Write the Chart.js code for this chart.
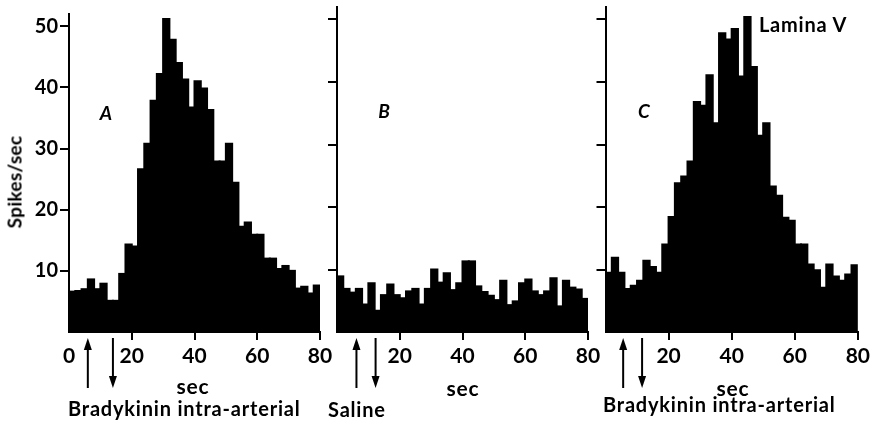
<!DOCTYPE html>
<html lang="en">
<head>
  <meta charset="UTF-8">
  <title>Lamina V - bradykinin</title>
  <script src="https://cdn.jsdelivr.net/npm/chart.js"></script>
  <style>
    body { margin: 0; background: #fff; font-family: Lato, "Open Sans", sans-serif; }
    #wrap { position: relative; width: 874px; height: 423px; overflow: hidden; }
    #wrap canvas { position: absolute; left: 0; top: 0; }
    .txt { position: absolute; font-weight: bold; color: #000; white-space: nowrap; line-height: 1; font-size: 20px; letter-spacing: 0.8px; }
    .mid { transform: translate(-50%, -50%); }
    .lft { transform: translate(0, -50%); }
    .ital { font-style: italic; font-size: 19px; letter-spacing: 0; }
  </style>
</head>
<body>
  <div id="wrap">
    <canvas id="panelA" width="874" height="423"></canvas>
    <canvas id="panelB" width="874" height="423"></canvas>
    <canvas id="panelC" width="874" height="423"></canvas>

    <div class="txt mid" style="left:14px; top:182px; font-size:19px; letter-spacing:0.3px; transform: translate(-50%,-50%) rotate(-90deg);">Spikes/sec</div>
    <div class="txt mid ital" style="left:106px; top:112px;">A</div>
    <div class="txt mid ital" style="left:384px; top:110px;">B</div>
    <div class="txt mid ital" style="left:644px; top:110px;">C</div>
    <div class="txt mid" style="left:803px; top:24px;">Lamina V</div>
    <div class="txt mid" style="left:193px; top:385px; font-size:21px;">sec</div>
    <div class="txt mid" style="left:463px; top:387px; font-size:21px;">sec</div>
    <div class="txt mid" style="left:733px; top:387px; font-size:21px;">sec</div>
    <div class="txt lft" style="left:68px; top:408px;">Bradykinin intra-arterial</div>
    <div class="txt lft" style="left:328px; top:409px;">Saline</div>
    <div class="txt lft" style="left:603px; top:404px;">Bradykinin intra-arterial</div>
  </div>

  <script>
    // 2 s bins, 0-80 s
    const binSec = 2;
    const xTicks = [0, 20, 40, 60, 80];
    const yTicks = [10, 20, 30, 40, 50];

    // spikes/sec per bin
    const valsA = [6.6, 6.7, 7.0, 8.6, 7.0, 7.9, 5.1, 5.1, 9.5, 14.3,
                   14.0, 26.6, 30.8, 37.8, 42.2, 51.2, 47.8, 44.0, 41.3, 36.7,
                   41.0, 39.8, 36.3, 27.9, 27.9, 30.8, 24.4, 17.2, 17.9, 15.9,
                   15.9, 12.0, 12.0, 10.3, 10.8, 10.0, 7.1, 7.4, 6.3, 7.6];
    const valsB = [8.9, 6.9, 6.3, 6.9, 4.4, 7.8, 3.4, 5.9, 7.6, 5.9,
                   5.4, 6.5, 6.9, 4.4, 6.9, 10.0, 7.9, 9.4, 6.7, 7.8,
                   11.3, 11.3, 7.3, 6.4, 5.8, 5.1, 8.2, 4.3, 4.9, 7.8,
                   8.4, 6.5, 5.9, 6.5, 8.6, 4.1, 8.2, 7.1, 6.8, 5.3];
    const valsC = [9.5, 11.9, 9.5, 6.9, 7.4, 8.2, 11.4, 10.4, 9.5, 14.0,
                   18.4, 23.8, 24.9, 27.3, 36.8, 36.2, 41.1, 33.4, 47.8, 46.8,
                   48.5, 40.9, 50.4, 42.4, 31.4, 33.4, 23.3, 21.8, 18.3, 17.8,
                   14.0, 14.0, 10.8, 9.9, 7.1, 10.8, 8.9, 8.2, 9.2, 10.7];

    // injection start / end (sec)
    const arrowsA = [6, 14];
    const arrowsB = [6.2, 12.3];
    const arrowsC = [5.6, 11.6];

    const fontFam = 'Lato, "Open Sans", sans-serif';

    const arrowPlugin = {
      id: 'arrows',
      afterDraw(chart, args, opts) {
        const ctx = chart.ctx;
        const xs = chart.scales.x;
        const base = chart.chartArea.bottom;
        ctx.save();
        ctx.fillStyle = '#000';
        ctx.strokeStyle = '#000';
        ctx.lineWidth = 2;
        opts.times.forEach((t, i) => {
          const x = xs.getPixelForValue(t);
          const up = i === 0;
          const top = base + 6, bot = base + 56;
          ctx.beginPath();
          ctx.moveTo(x, up ? top + 8 : top);
          ctx.lineTo(x, up ? bot : bot - 8);
          ctx.stroke();
          ctx.beginPath();
          if (up) {
            ctx.moveTo(x, top); ctx.lineTo(x - 4, top + 12); ctx.lineTo(x + 4, top + 12);
          } else {
            ctx.moveTo(x, bot); ctx.lineTo(x - 4, bot - 12); ctx.lineTo(x + 4, bot - 12);
          }
          ctx.closePath();
          ctx.fill();
        });
        ctx.restore();
      }
    };

    function makePanel(id, vals, arrows, lay) {
      const pts = vals.map((v, i) => ({ x: i * binSec + binSec / 2, y: v }));
      return new Chart(document.getElementById(id), {
        type: 'bar',
        data: {
          datasets: [{
            data: pts,
            backgroundColor: '#000',
            borderWidth: 0,
            inflateAmount: 1,
            barPercentage: 1,
            categoryPercentage: 1
          }]
        },
        options: {
          responsive: false,
          animation: false,
          events: [],
          layout: { padding: { left: lay.left, right: lay.right, top: 7, bottom: 51 } },
          plugins: {
            legend: { display: false },
            tooltip: { enabled: false },
            arrows: { times: arrows }
          },
          scales: {
            x: {
              type: 'linear',
              min: 0, max: 80,
              offset: false,
              afterBuildTicks: s => { s.ticks = xTicks.map(v => ({ value: v })); },
              afterFit: s => { s.height = 40; },
              border: { display: true, color: '#000', width: 2 },
              grid: {
                offset: false,
                drawOnChartArea: false,
                tickLength: 8,
                lineWidth: 2,
                color: c => (c.tick && c.tick.value === 0) ? 'rgba(0,0,0,0)' : '#000'
              },
              ticks: {
                color: '#000',
                padding: 4,
                maxRotation: 0,
                font: { family: fontFam, size: 21, weight: 'bold' },
                callback: v => (v === 0 && !lay.zero) ? '' : v
              }
            },
            y: {
              min: 0, max: 52,
              afterBuildTicks: s => { s.ticks = yTicks.map(v => ({ value: v })); },
              afterFit: s => { s.width = lay.yw; },
              border: { display: true, color: '#000', width: 2 },
              grid: { drawOnChartArea: false, tickLength: 9, lineWidth: 2, color: '#000' },
              ticks: {
                display: lay.ylab,
                color: '#000',
                padding: 2,
                font: { family: fontFam, size: 20, weight: 'bold' }
              }
            }
          }
        },
        plugins: [arrowPlugin]
      });
    }

    makePanel('panelA', valsA, arrowsA, { left: 0, right: 554, yw: 69, ylab: true, zero: true });
    makePanel('panelB', valsB, arrowsB, { left: 317, right: 286, yw: 20, ylab: false, zero: false });
    makePanel('panelC', valsC, arrowsC, { left: 585.5, right: 15, yw: 20, ylab: false, zero: false });
  </script>
</body>
</html>
